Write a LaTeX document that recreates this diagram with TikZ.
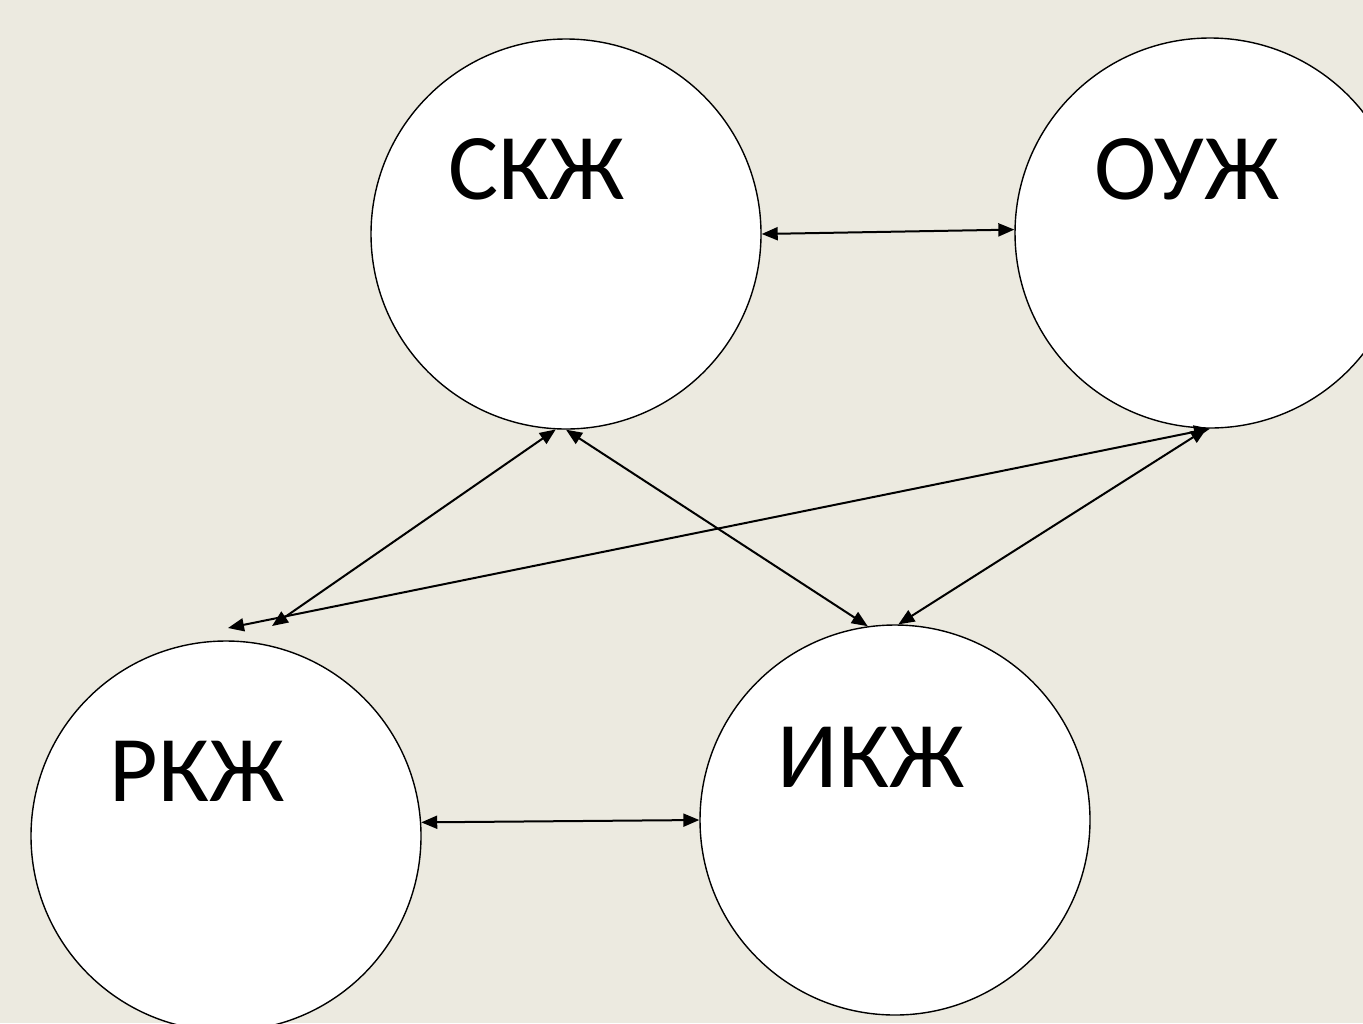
\documentclass[tikz,border=0pt]{standalone}
\usepackage{fontspec}
\setmainfont{Carlito}
\usetikzlibrary{arrows.meta}
\definecolor{paper}{RGB}{236,234,224}

\begin{document}
\begin{tikzpicture}[x=0.5pt,y=-0.5pt,
    sphere/.style={circle,draw,fill=white,line width=0.7pt,minimum size=195pt,inner sep=0pt},
    tag/.style={font=\fontsize{47}{56}\selectfont,inner sep=0pt},
    link/.style={{Triangle[length=8pt,width=6.5pt]}-{Triangle[length=8pt,width=6.5pt]},line width=1pt}]
    \fill[paper] (0,0) rectangle (1363,1023);
    \clip (0,0) rectangle (1363,1023);
    \node[sphere] (skz) at (566,234) {};
    \node[sphere] (ouz) at (1210,233) {};
    \node[sphere] (rkz) at (226,836) {};
    \node[sphere] (ikz) at (895,820) {};
    \node[tag] (skztag) at (537,169) {СКЖ};
    \node[tag] (ouztag) at (1187,169) {ОУЖ};
    \node[tag] (rkztag) at (197,771) {РКЖ};
    \node[tag] (ikztag) at (871,757) {ИКЖ};
    \coordinate (rkzleft) at (228,628);
    \coordinate (rkzright) at (272,626);
    \draw[link] (skz.0.5) -- (ouz.179);
    \draw[link] (rkz.4) -- (ikz.west);
    \draw[link] (skz.-93) -- (rkzright);
    \draw[link] (skz.-90) -- (ikz.98);
    \draw[link] (ouz.-90) -- (rkzleft);
    \draw[link] (ouz.-91) -- (ikz.89);
\end{tikzpicture}
\end{document}
